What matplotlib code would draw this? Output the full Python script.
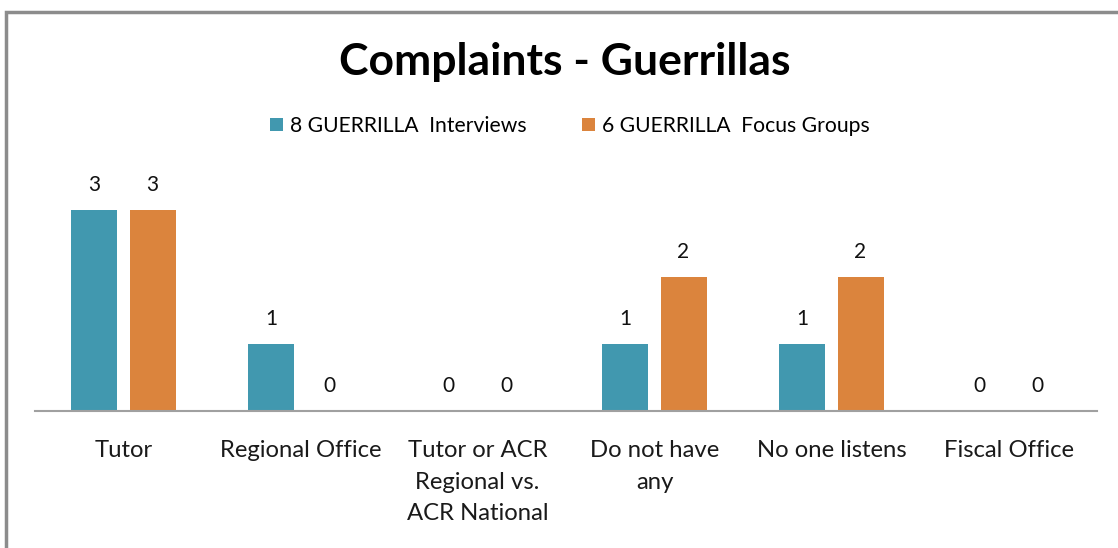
import numpy as np
import matplotlib
matplotlib.use("Agg")
import matplotlib.pyplot as plt
from matplotlib.patches import Rectangle

categories = ["Tutor", "Regional Office", "Tutor or ACR\nRegional vs.\nACR National",
              "Do not have\nany", "No one listens", "Fiscal Office"]
interviews = [3, 1, 0, 1, 1, 0]
focus_groups = [3, 0, 0, 2, 2, 0]
series_names = ["8 GUERRILLA  Interviews", "6 GUERRILLA  Focus Groups"]
TEAL, ORANGE = "#4198AF", "#DB843D"

plt.rcParams["font.family"] = ["Lato", "DejaVu Sans"]
W, H = 1118, 548
fig = plt.figure(figsize=(W / 100, H / 100), dpi=100)
fig.patches.append(Rectangle((6 / W, -0.1), 1.2, 1.1 - 12 / H, transform=fig.transFigure,
                             fill=False, edgecolor="#8c8c8c", lw=2.5))

ax = fig.add_axes([35 / W, (H - 411) / H, 1062 / W, 268 / H])
x = np.arange(len(categories))
bw, gap = 0.26, 0.068
off = (bw + gap) / 2
b1 = ax.bar(x - off, interviews, bw, color=TEAL, label=series_names[0])
b2 = ax.bar(x + off, focus_groups, bw, color=ORANGE, label=series_names[1])
for bars in (b1, b2):
    ax.bar_label(bars, padding=11, fontsize=15, color="#111111")

ax.set_xlim(-0.5, len(categories) - 0.5)
ax.set_ylim(0, 4)
ax.set_yticks([])
for s in ("top", "right", "left"):
    ax.spines[s].set_visible(False)
ax.spines["bottom"].set_color("#a0a0a0")
ax.spines["bottom"].set_linewidth(1.5)
ax.set_xticks(x)
ax.set_xticklabels(categories, fontsize=17.2, color="#1a1a1a", linespacing=1.62, va="top")
ax.tick_params(axis="x", length=0, pad=21)

fig.text(565 / W, 1 - 62 / H, "Complaints - Guerrillas", ha="center", va="center",
         fontsize=32, fontweight="bold")
fig.legend(loc="center", bbox_to_anchor=(570 / W, 1 - 126 / H), ncol=2, frameon=False,
           fontsize=15.2, handlelength=0.6, handleheight=0.6, handletextpad=0.35,
           columnspacing=2.6)

fig.savefig("out.png", dpi=100)
